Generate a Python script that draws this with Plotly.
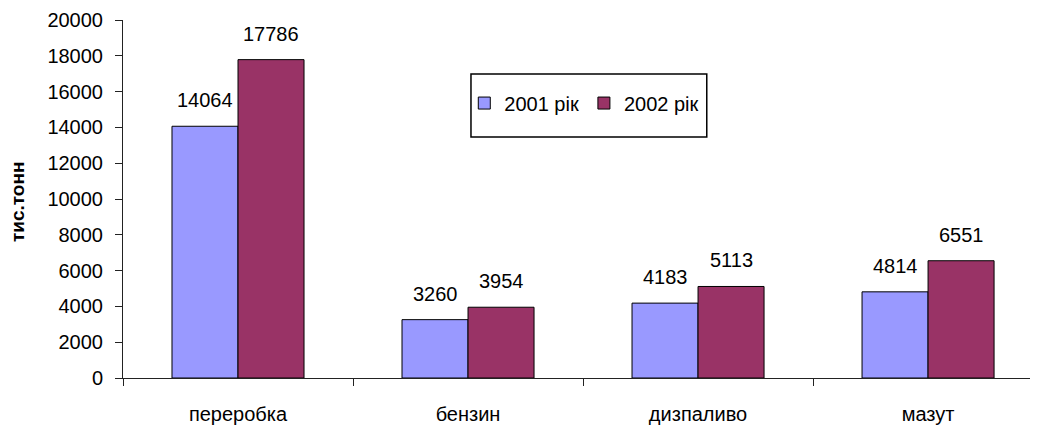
import plotly.graph_objects as go

categories = ["переробка", "бензин", "дизпаливо", "мазут"]
series_names = ["2001 рік", "2002 рік"]
values_2001 = [14064, 3260, 4183, 4814]
values_2002 = [17786, 3954, 5113, 6551]
y_ticks = list(range(0, 20001, 2000))
y_tick_labels = [str(v) for v in y_ticks]
y_title = "тис.тонн"

colors = ["#9999FF", "#993366"]
FONT = "Liberation Sans, Arial, sans-serif"
FS = 20

fig = go.Figure()
for name, vals, col in zip(series_names, [values_2001, values_2002], colors):
    fig.add_trace(go.Bar(
        x=categories, y=vals, name=name,
        marker=dict(color=col, line=dict(color="black", width=1)),
    ))

annotations = []
for vals, shift in [(values_2001, -33), (values_2002, 33)]:
    for c, v in zip(categories, vals):
        annotations.append(dict(
            x=c, y=v, xref="x", yref="y", text=str(v), showarrow=False,
            xshift=shift, yshift=13, yanchor="bottom",
            font=dict(family=FONT, size=FS, color="black"),
        ))
annotations.append(dict(
    x=-0.1158, y=0.4916, xref="paper", yref="paper", text="<b>%s</b>" % y_title,
    textangle=-90, showarrow=False, xanchor="center", yanchor="middle",
    font=dict(family=FONT, size=19, color="black"),
))

fig.update_layout(
    width=1030, height=417,
    margin=dict(l=115, r=0, t=12, b=47, autoexpand=False),
    paper_bgcolor="white", plot_bgcolor="white",
    barmode="group", bargap=0.426, bargroupgap=0,
    font=dict(family=FONT, size=FS, color="black"),
    showlegend=True,
    legend=dict(orientation="h", x=0.373, y=0.768, xanchor="left", yanchor="middle",
                bgcolor="rgba(0,0,0,0)", borderwidth=0,
                font=dict(family=FONT, size=FS, color="black"),
                itemwidth=30, traceorder="normal"),
    annotations=annotations,
    shapes=[dict(type="rect", xref="paper", yref="paper",
                 x0=0.3803, x1=0.638, y0=0.673, y1=0.849,
                 line=dict(color="black", width=1.5), fillcolor="rgba(0,0,0,0)")],
    xaxis=dict(range=[-0.5, 3.478], showline=True, linecolor="#222", linewidth=1,
               ticks="outside", tickson="boundaries", ticklen=7, tickcolor="#222",
               showgrid=False, zeroline=False, ticklabelstandoff=18, automargin=False,
               tickfont=dict(family=FONT, size=FS)),
    yaxis=dict(range=[0, 20000], tickvals=y_ticks, ticktext=y_tick_labels,
               showline=True, linecolor="#222",
               linewidth=1, ticks="outside", ticklen=7, tickcolor="#222",
               showgrid=False, zeroline=False, ticklabelstandoff=8, automargin=False,
               tickfont=dict(family=FONT, size=FS)),
)

fig.write_html("out.html")
